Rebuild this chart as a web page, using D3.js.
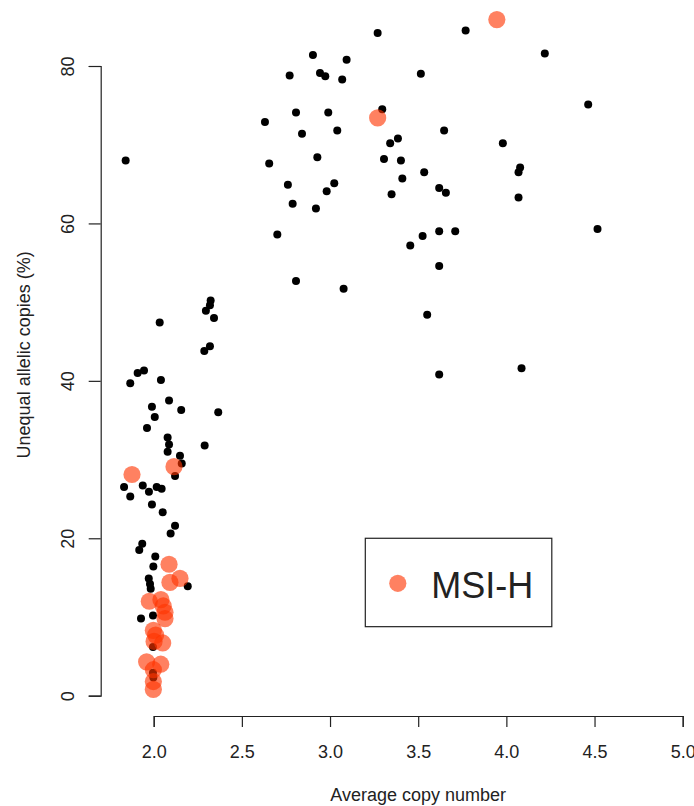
<!DOCTYPE html>
<html lang="en">

<head>
    <meta charset="UTF-8">
    <title>Average copy number vs unequal allelic copies</title>
    <script src="https://d3js.org/d3.v7.min.js"></script>
    <style>
        body {
            margin: 0;
            background: #fff;
        }

        text {
            font-family: "Liberation Sans", Arial, sans-serif;
            fill: #222;
        }

        .axis path,
        .axis line {
            stroke: #222;
            stroke-width: 1.2px;
        }
    </style>
</head>

<body>
    <svg id="chart"></svg>

    <script>
        const width = 694;
        const height = 806;

        // samples: [average copy number, unequal allelic copies %]
        const otherSamples = [
            [1.841, 68.0], [3.270, 84.2], [3.769, 84.5], [2.903, 81.4], [3.094, 80.8],
            [2.771, 78.8], [2.943, 79.1], [2.973, 78.7], [3.069, 78.3], [3.515, 79.0],
            [2.807, 74.1], [2.990, 74.1], [3.296, 74.5], [2.631, 72.9], [2.841, 71.4],
            [3.041, 71.8], [3.647, 71.8], [3.385, 70.8], [3.341, 70.2], [2.655, 67.6],
            [2.928, 68.4], [3.306, 68.2], [3.402, 68.0], [3.410, 65.7], [3.534, 66.5],
            [2.761, 64.9], [3.024, 65.1], [2.981, 64.1], [3.349, 63.7], [3.619, 64.5],
            [3.657, 63.9], [2.788, 62.5], [2.920, 61.9], [2.701, 58.6], [3.455, 57.2],
            [3.525, 58.4], [3.619, 59.0], [3.710, 59.0], [3.619, 54.6], [2.807, 52.7],
            [3.077, 51.7], [3.551, 48.4], [4.218, 81.6], [4.464, 75.1], [3.980, 70.2],
            [4.078, 67.1], [4.069, 66.5], [4.069, 63.3], [4.517, 59.3], [3.619, 40.8],
            [4.086, 41.6], [2.323, 50.2], [2.319, 49.6], [2.296, 48.9], [2.342, 48.0],
            [2.034, 47.4], [2.319, 44.4], [2.287, 43.8], [1.909, 41.0], [1.945, 41.3],
            [1.867, 39.7], [2.041, 40.1], [2.087, 37.5], [1.990, 36.7], [2.156, 36.3],
            [2.366, 36.0], [2.006, 35.4], [1.962, 34.0], [2.079, 32.8], [2.087, 31.9],
            [2.289, 31.8], [2.079, 31.0], [2.149, 30.5], [2.159, 29.5], [2.121, 27.9],
            [1.832, 26.5], [1.938, 26.7], [1.973, 25.9], [2.017, 26.5], [2.045, 26.3],
            [1.867, 25.3], [1.990, 24.3], [2.051, 23.3], [2.121, 21.6], [2.096, 20.6],
            [1.935, 19.3], [1.918, 18.5], [2.009, 17.7], [1.998, 16.4], [2.193, 13.9],
            [1.972, 14.9], [1.979, 14.2], [1.983, 13.6], [1.928, 9.8], [1.996, 10.2],
            [1.996, 6.2], [1.996, 2.9], [1.998, 2.3]
        ];

        const msiSamples = [
            [3.946, 85.9], [3.270, 73.4], [2.115, 29.1], [1.877, 28.1], [2.087, 16.7],
            [2.149, 14.9], [2.092, 14.4], [1.975, 12.0], [2.041, 12.2], [2.054, 11.4],
            [2.064, 10.6], [2.064, 9.8], [1.998, 8.3], [2.011, 7.7], [2.051, 6.7],
            [2.002, 6.9], [1.960, 4.3], [2.040, 4.0], [1.998, 3.3], [1.998, 1.8],
            [1.998, 0.8]
        ];

        const xTicks = [2.0, 2.5, 3.0, 3.5, 4.0, 4.5, 5.0];
        const yTicks = [0, 20, 40, 60, 80];
        const legendLabels = ['MSI-H'];

        const msiColor = 'rgba(255, 52, 0, 0.62)';

        const svg = d3.select('#chart')
            .attr('width', width)
            .attr('height', height);

        const x = d3.scaleLinear()
            .domain([2, 5])
            .range([153.7, 682.7]);

        const y = d3.scaleLinear()
            .domain([0, 80])
            .range([695.7, 66]);

        // axes, R style: line only spans the ticks
        const xAxis = svg.append('g')
            .attr('class', 'axis')
            .attr('transform', 'translate(0,716)')
            .call(d3.axisBottom(x)
                .tickValues(xTicks)
                .tickFormat(d3.format('.1f'))
                .tickSizeOuter(0)
                .tickSize(11)
                .tickPadding(18));

        xAxis.selectAll('text')
            .attr('font-size', 18);

        const yAxis = svg.append('g')
            .attr('class', 'axis')
            .attr('transform', 'translate(100.7,0)')
            .call(d3.axisLeft(y)
                .tickValues(yTicks)
                .tickSizeOuter(0)
                .tickSize(12));

        yAxis.selectAll('.tick text')
            .attr('font-size', 18)
            .attr('text-anchor', 'middle')
            .attr('dy', null)
            .attr('x', null)
            .attr('transform', 'translate(-27,0) rotate(-90)');

        svg.selectAll('.axis text').attr('font-family', null);

        // axis titles
        svg.append('text')
            .attr('x', x(3.5))
            .attr('y', 801)
            .attr('text-anchor', 'middle')
            .attr('font-size', 18)
            .text('Average copy number');

        svg.append('text')
            .attr('transform', `translate(30,${y(43.3)}) rotate(-90)`)
            .attr('text-anchor', 'middle')
            .attr('font-size', 18)
            .text('Unequal allelic copies (%)');

        // points
        svg.append('g')
            .selectAll('circle')
            .data(otherSamples)
            .join('circle')
            .attr('cx', d => x(d[0]))
            .attr('cy', d => y(d[1]))
            .attr('r', 4)
            .attr('fill', '#000');

        svg.append('g')
            .selectAll('circle')
            .data(msiSamples)
            .join('circle')
            .attr('cx', d => x(d[0]))
            .attr('cy', d => y(d[1]))
            .attr('r', 8.6)
            .attr('fill', msiColor);

        // legend, top-left corner anchored at (3.2, 20)
        const legend = svg.append('g')
            .attr('transform', `translate(${x(3.2)},${y(20)})`);

        legend.append('rect')
            .attr('width', 186.5)
            .attr('height', 88.4)
            .attr('fill', 'none')
            .attr('stroke', '#222')
            .attr('stroke-width', 1.2);

        legend.selectAll('circle')
            .data(legendLabels)
            .join('circle')
            .attr('cx', 32.5)
            .attr('cy', 45)
            .attr('r', 8.6)
            .attr('fill', msiColor);

        legend.selectAll('text')
            .data(legendLabels)
            .join('text')
            .attr('x', 66)
            .attr('y', 60)
            .attr('font-size', 36)
            .attr('fill', '#000')
            .text(d => d);
    </script>
</body>

</html>
